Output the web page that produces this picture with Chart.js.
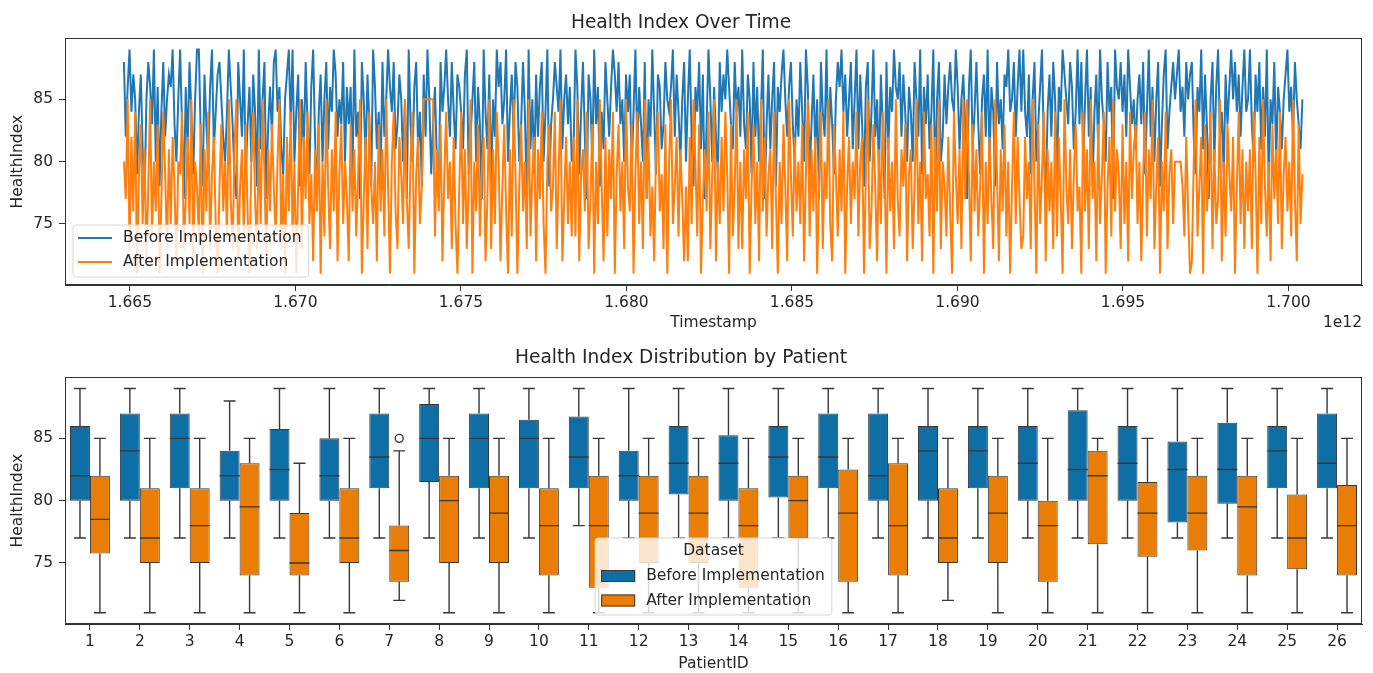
<!DOCTYPE html>
<html>
<head>
<meta charset="utf-8">
<title>Health Index</title>
<script src="https://cdn.jsdelivr.net/npm/chart.js@4.4.0/dist/chart.umd.min.js"></script>
<style>
  body { margin: 0; background: #fff; }
  canvas { display: block; }
</style>
</head>
<body>
<canvas id="timeChart" width="1373" height="336"></canvas>
<canvas id="boxChart" width="1373" height="337"></canvas>
<script>
// ---- data: top panel (readings over time) ----
const tsStart = 1664820000000;
const tsEnd = 1700420000000;

const beforeValues = [
  88,82,86,89,84,87,85,79,84,87,81,77,85,88,86,83,89,80,86,78,84,88,82,85,87,86,89,83,80,85,
  89,83,77,86,81,88,84,79,85,89,89,82,78,87,83,80,86,89,81,84,87,88,85,82,80,84,89,86,83,79,
  77,88,85,82,89,79,83,86,80,87,84,78,89,81,85,88,77,83,86,82,88,89,84,86,81,79,85,87,89,83,
  89,80,84,87,78,85,81,88,83,79,86,89,82,77,84,87,80,85,88,81,86,84,89,87,82,85,83,88,80,86,
  83,86,79,89,82,84,77,88,85,80,87,83,78,89,86,81,84,79,88,82,85,89,86,84,88,81,83,87,85,80,
  85,77,89,83,80,86,88,81,84,78,87,82,89,85,79,83,86,80,77,88,84,86,89,85,82,88,84,81,87,86,
  84,81,87,89,79,82,85,88,80,86,83,77,89,84,81,87,78,85,82,89,86,88,83,85,89,80,84,87,82,88,
  86,80,83,88,84,77,89,81,85,79,87,82,86,88,80,84,89,78,83,85,88,86,84,89,81,85,87,83,86,80,
  81,89,86,79,84,88,82,77,87,85,80,89,83,86,78,84,81,88,85,82,86,89,87,84,88,83,85,80,87,84,
  87,79,84,89,81,86,83,80,88,77,85,82,89,84,79,87,86,81,83,88,85,84,86,89,82,87,84,80,85,88,
  80,85,89,82,78,86,84,88,81,87,77,83,89,85,80,86,82,79,88,84,87,85,89,86,83,81,88,84,86,82,
  89,83,81,87,85,79,88,82,86,80,84,89,77,83,87,81,85,88,78,86,84,87,89,85,82,86,88,83,80,85,
  82,88,84,80,89,86,79,83,87,81,85,77,88,84,82,89,80,86,83,79,85,88,86,89,84,87,82,85,88,81,
  85,89,81,87,83,78,86,88,80,84,89,82,85,79,87,83,77,88,81,86,84,89,86,85,88,82,87,84,80,86,
  84,80,88,85,82,89,79,86,83,87,81,84,89,78,85,88,80,82,87,83,86,88,85,84,89,86,81,85,87,83,
  77,86,89,81,84,88,83,79,85,87,82,89,80,86,84,78,88,83,85,81,87,86,89,84,85,88,82,86,89,84,
  89,84,82,87,79,85,88,80,83,86,89,81,77,84,87,82,88,85,79,86,84,89,87,85,83,88,86,81,84,89,
  83,88,80,85,89,82,86,78,84,87,81,89,85,83,80,88,84,86,77,89,86,85,88,84,87,82,89,86,83,85,
  81,85,87,83,88,79,84,89,82,86,80,85,88,78,83,87,89,81,84,86,88,85,87,89,84,86,82,88,85,87,
  88,82,79,86,84,89,81,87,83,77,85,88,80,86,89,82,84,79,87,83,86,89,85,88,84,87,82,86,89,84,
  85,89,83,80,87,84,88,81,86,82,89,78,85,83,88,80,86,84,81,85,87,89,84,86,82,88,85,83,81,85
];

const afterValues = [
  80,77,85,73,82,76,84,71,79,83,75,81,72,78,85,74,80,76,83,71,77,84,79,73,81,75,82,78,72,80,
  79,84,73,77,82,75,85,72,80,78,74,83,71,81,76,84,73,79,82,75,71,78,83,76,80,74,85,77,73,81,
  85,72,78,81,74,83,76,71,80,84,77,73,82,75,85,79,72,81,76,83,78,74,80,85,73,79,71,82,76,84,
  74,80,71,78,85,73,82,77,84,75,79,72,81,76,83,71,80,74,85,78,73,81,76,84,72,79,83,75,80,77,
  72,83,76,81,74,79,85,71,77,82,73,84,78,75,80,72,83,76,81,74,85,78,71,80,84,76,73,82,79,75,
  85,77,73,80,84,71,79,82,75,78,85,85,85,85,85,85,74,81,76,83,72,79,84,77,80,73,82,75,71,78,
  84,75,81,73,78,85,71,80,76,83,74,79,82,72,77,85,73,81,75,84,80,72,78,83,76,71,81,74,85,79,
  71,78,83,76,80,73,85,74,79,82,72,81,77,84,75,71,80,83,76,78,84,73,79,85,72,77,82,75,80,74,
  82,74,85,72,79,81,76,84,73,77,83,71,80,75,85,78,72,82,74,81,77,84,71,79,83,76,80,73,85,78,
  76,83,71,79,84,75,80,73,85,77,82,74,78,72,81,84,76,79,73,83,71,80,85,75,78,82,74,81,77,72,
  78,72,82,75,85,80,74,83,71,77,81,76,84,73,79,85,72,80,75,82,76,84,79,71,83,74,78,85,73,80,
  73,81,77,84,71,78,83,75,80,72,85,76,82,74,79,81,73,84,77,71,80,75,83,78,72,85,79,74,82,76,
  80,75,83,72,79,85,74,81,76,82,71,78,84,73,80,77,85,75,72,83,79,74,81,76,84,71,78,82,75,80,
  77,84,74,80,82,71,79,85,73,76,83,78,72,81,75,84,79,71,82,76,80,73,85,77,74,81,78,83,72,79,
  81,73,78,85,75,80,72,84,77,79,74,83,71,82,76,85,73,80,78,74,82,76,71,84,79,75,81,73,85,77,
  85,79,72,83,76,81,74,78,84,71,80,75,82,77,73,85,79,72,81,76,83,74,80,71,78,84,75,82,77,73,
  74,82,77,80,73,85,78,71,83,75,79,84,72,81,76,80,73,84,74,82,77,71,85,78,75,81,73,79,83,76,
  78,71,84,76,81,73,85,77,80,72,83,75,79,84,71,78,82,74,85,76,81,79,73,83,75,80,72,84,77,81,
  83,75,80,72,79,84,74,81,77,85,73,78,82,71,80,76,84,73,79,81,75,80,80,80,80,78,74,82,76,71,
  72,80,85,74,78,82,71,83,76,79,84,73,81,75,77,85,72,80,74,83,79,76,82,71,78,84,75,81,73,80,
  76,81,73,84,79,71,82,75,85,78,74,80,72,83,77,81,75,84,73,79,82,76,80,74,85,77,72,83,75,79
];

const timeTicks = [1.665e12, 1.670e12, 1.675e12, 1.680e12, 1.685e12, 1.690e12, 1.695e12, 1.700e12];
const healthTicks = [75, 80, 85];

// ---- data: bottom panel (box statistics per patient) ----
const patients = ['1','2','3','4','5','6','7','8','9','10','11','12','13',
                  '14','15','16','17','18','19','20','21','22','23','24','25','26'];

const beforeLow    = [77,77,77,77,77,77,77,77,77,77,78,77,77,77,77,77,77,77,77,77,77,77,77,77,77,77];
const beforeQ1     = [80,80,81,80,80,80,81,81.5,81,81,81,80,80.5,80,80.25,81,80,80,81,80,80,80,78.25,79.75,81,81];
const beforeMedian = [82,84,85,82,82.5,82,83.5,85,85,85,83.5,82,83,83,83.5,83.5,82,84,84,83,82.5,83,82.5,82.5,84,83];
const beforeQ3     = [86,87,87,84,85.75,85,87,87.75,87,86.5,86.75,84,86,85.25,86,87,87,86,86,86,87.25,86,84.75,86.25,86,87];
const beforeHigh   = [89,89,89,88,89,89,89,89,89,89,89,89,89,89,89,89,89,89,89,89,89,89,89,89,89,89];
const beforeOutliers = [[],[],[],[],[],[],[],[],[],[],[],[],[],[],[],[],[],[],[],[],[],[],[],[],[],[]];

const afterLow    = [71,71,71,71,71,71,72,71,71,71,71,71,71,71,71,71,71,72,71,71,71,71,71,71,71,71];
const afterQ1     = [75.75,75,75,74,74,75,73.5,75,75,74,73,75,75,73,77,73.5,74,75,75,73.5,76.5,75.5,76,74,74.5,74];
const afterMedian = [78.5,77,78,79.5,75,77,76,80,79,78,78,79,79,78,80,79,78,77,79,78,82,79,79,79.5,77,78];
const afterQ3     = [82,81,81,83,79,81,78,82,82,81,82,82,82,81,82,82.5,83,81,82,80,84,81.5,82,82,80.5,81.25];
const afterHigh   = [85,85,85,85,83,85,84,85,85,85,85,85,85,85,85,85,85,85,85,85,85,85,85,85,85,85];
const afterOutliers = [[],[],[],[],[],[],[85],[],[],[],[],[],[],[],[],[],[],[],[],[],[],[],[],[],[],[]];

// ---- look ----
const FONT = '"DejaVu Sans", sans-serif';
const INK = '#262626';
const EDGE = '#383838';
Chart.defaults.font.family = FONT;
Chart.defaults.color = INK;

const lineBlue = '#1f77b4';
const lineOrange = '#ff7f0e';
const boxBlue = '#0e6fa7';
const boxOrange = '#ea7d05';

function roundRect(ctx, x, y, w, h, r) {
  ctx.beginPath();
  ctx.moveTo(x + r, y);
  ctx.arcTo(x + w, y, x + w, y + h, r);
  ctx.arcTo(x + w, y + h, x, y + h, r);
  ctx.arcTo(x, y + h, x, y, r);
  ctx.arcTo(x, y, x + w, y, r);
  ctx.closePath();
}

const frame = {
  id: 'frame',
  afterDraw(chart) {
    const {ctx, chartArea: a} = chart;
    ctx.save();
    ctx.strokeStyle = '#333';
    ctx.lineWidth = 1;
    ctx.strokeRect(Math.round(a.left) + 0.5, Math.round(a.top) + 0.5,
                   Math.round(a.width) - 1, Math.round(a.height) - 1);
    ctx.restore();
  }
};

const lineLegend = {
  id: 'lineLegend',
  afterDraw(chart) {
    const {ctx, chartArea: a} = chart;
    ctx.save();
    ctx.font = '15.5px ' + FONT;
    const sets = chart.data.datasets;
    const textW = Math.max(...sets.map(d => ctx.measureText(d.label).width));
    const w = 5 + 34 + 11 + textW + 7, h = 52;
    const x = a.left + 8, y = a.bottom - 8 - h;
    roundRect(ctx, x, y, w, h, 3);
    ctx.fillStyle = 'rgba(255,255,255,0.8)';
    ctx.fill();
    ctx.strokeStyle = '#d6d6d6';
    ctx.lineWidth = 1;
    ctx.stroke();
    sets.forEach((d, i) => {
      const cy = y + 13 + i * 24;
      ctx.strokeStyle = d.borderColor;
      ctx.lineWidth = 2;
      ctx.beginPath();
      ctx.moveTo(x + 5, cy);
      ctx.lineTo(x + 39, cy);
      ctx.stroke();
      ctx.fillStyle = INK;
      ctx.textBaseline = 'middle';
      ctx.fillText(d.label, x + 50, cy);
    });
    // offset label of the x axis
    ctx.textAlign = 'right';
    ctx.fillText('1e12', a.right, a.bottom + 38);
    ctx.restore();
  }
};

const boxParts = {
  id: 'boxParts',
  afterDatasetsDraw(chart) {
    const {ctx} = chart;
    const ys = chart.scales.y;
    const stats = [
      {lo: beforeLow, q1: beforeQ1, med: beforeMedian, q3: beforeQ3, hi: beforeHigh, out: beforeOutliers},
      {lo: afterLow, q1: afterQ1, med: afterMedian, q3: afterQ3, hi: afterHigh, out: afterOutliers}
    ];
    ctx.save();
    ctx.strokeStyle = EDGE;
    ctx.lineWidth = 1.4;
    stats.forEach((s, d) => {
      chart.getDatasetMeta(d).data.forEach((bar, i) => {
        const x = bar.x, half = bar.width / 2, cap = bar.width * 0.3;
        const yLo = ys.getPixelForValue(s.lo[i]);
        const yQ1 = ys.getPixelForValue(s.q1[i]);
        const yMed = ys.getPixelForValue(s.med[i]);
        const yQ3 = ys.getPixelForValue(s.q3[i]);
        const yHi = ys.getPixelForValue(s.hi[i]);
        ctx.beginPath();
        ctx.moveTo(x, yQ3); ctx.lineTo(x, yHi);
        ctx.moveTo(x - cap, yHi); ctx.lineTo(x + cap, yHi);
        ctx.moveTo(x, yQ1); ctx.lineTo(x, yLo);
        ctx.moveTo(x - cap, yLo); ctx.lineTo(x + cap, yLo);
        ctx.moveTo(x - half, yMed); ctx.lineTo(x + half, yMed);
        ctx.stroke();
        s.out[i].forEach(v => {
          ctx.beginPath();
          ctx.arc(x, ys.getPixelForValue(v), 4, 0, Math.PI * 2);
          ctx.stroke();
        });
      });
    });
    ctx.restore();
  }
};

const boxLegend = {
  id: 'boxLegend',
  afterDraw(chart) {
    const {ctx, chartArea: a} = chart;
    ctx.save();
    ctx.font = '15.5px ' + FONT;
    const sets = chart.data.datasets;
    const textW = Math.max(...sets.map(d => ctx.measureText(d.label).width));
    const w = 6 + 34 + 11 + textW + 7, h = 77;
    const x = (a.left + a.right) / 2 - w / 2, y = a.bottom - 9 - h;
    roundRect(ctx, x, y, w, h, 3);
    ctx.fillStyle = 'rgba(255,255,255,0.8)';
    ctx.fill();
    ctx.strokeStyle = '#d6d6d6';
    ctx.lineWidth = 1;
    ctx.stroke();
    ctx.fillStyle = INK;
    ctx.textBaseline = 'middle';
    ctx.textAlign = 'center';
    ctx.fillText('Dataset', x + w / 2, y + 13);
    ctx.textAlign = 'left';
    sets.forEach((d, i) => {
      const cy = y + 38 + i * 24.5;
      ctx.fillStyle = d.backgroundColor;
      ctx.fillRect(x + 6, cy - 6, 34, 12);
      ctx.strokeStyle = EDGE;
      ctx.strokeRect(x + 6.5, cy - 5.5, 33, 11);
      ctx.fillStyle = INK;
      ctx.fillText(d.label, x + 51, cy);
    });
    ctx.restore();
  }
};

function fixTicks(values) {
  return scale => { scale.ticks = values.map(v => ({value: v})); };
}

const tickFont = {family: FONT, size: 15.5};
const axisGrid = {drawOnChartArea: false, drawTicks: true, tickLength: 6, color: '#333'};

// ---- top: line chart ----
const step = (tsEnd - tsStart) / (beforeValues.length - 1);
const stepAfter = (tsEnd - tsStart) / (afterValues.length - 1);

new Chart(document.getElementById('timeChart'), {
  type: 'line',
  data: {
    datasets: [
      {
        label: 'Before Implementation',
        data: beforeValues.map((v, i) => ({x: tsStart + i * step, y: v})),
        borderColor: lineBlue,
        borderWidth: 2,
        pointRadius: 0,
        order: 1
      },
      {
        label: 'After Implementation',
        data: afterValues.map((v, i) => ({x: tsStart + i * stepAfter, y: v})),
        borderColor: lineOrange,
        borderWidth: 2,
        pointRadius: 0,
        order: 0
      }
    ]
  },
  options: {
    responsive: false,
    animation: false,
    events: [],
    layout: {padding: {left: 0, right: 11, top: 0, bottom: 0}},
    plugins: {
      legend: {display: false},
      tooltip: {enabled: false},
      title: {
        display: true,
        text: 'Health Index Over Time',
        color: INK,
        font: {family: FONT, size: 18.6, weight: 'normal'},
        padding: {top: 12, bottom: 4}
      }
    },
    scales: {
      x: {
        type: 'linear',
        min: 1.66304e12,
        max: 1.70222e12,
        afterBuildTicks: fixTicks(timeTicks),
        afterFit: s => { s.height = 51; },
        grid: axisGrid,
        border: {color: '#333'},
        ticks: {font: tickFont, color: INK, padding: 3, maxRotation: 0,
                callback: v => (v / 1e12).toFixed(3)},
        title: {display: true, text: 'Timestamp', color: INK, font: tickFont, padding: {top: 0, bottom: 4}}
      },
      y: {
        min: 70.1,
        max: 89.9,
        afterBuildTicks: fixTicks(healthTicks),
        afterFit: s => { s.width = 65; },
        grid: axisGrid,
        border: {color: '#333'},
        ticks: {font: tickFont, color: INK, padding: 6},
        title: {display: true, text: 'HealthIndex', color: INK, font: tickFont, padding: {top: 9, bottom: 0}}
      }
    }
  },
  plugins: [frame, lineLegend]
});

// ---- bottom: box plot built on floating bars ----
new Chart(document.getElementById('boxChart'), {
  type: 'bar',
  data: {
    labels: patients,
    datasets: [
      {
        label: 'Before Implementation',
        data: beforeQ1.map((v, i) => [v, beforeQ3[i]]),
        backgroundColor: boxBlue,
        borderColor: EDGE,
        borderWidth: 1,
        borderSkipped: false
      },
      {
        label: 'After Implementation',
        data: afterQ1.map((v, i) => [v, afterQ3[i]]),
        backgroundColor: boxOrange,
        borderColor: EDGE,
        borderWidth: 1,
        borderSkipped: false
      }
    ]
  },
  options: {
    responsive: false,
    animation: false,
    events: [],
    categoryPercentage: 0.8,
    barPercentage: 1.0,
    layout: {padding: {left: 0, right: 11, top: 0, bottom: 0}},
    plugins: {
      legend: {display: false},
      tooltip: {enabled: false},
      title: {
        display: true,
        text: 'Health Index Distribution by Patient',
        color: INK,
        font: {family: FONT, size: 18.6, weight: 'normal'},
        padding: {top: 11, bottom: 8}
      }
    },
    scales: {
      x: {
        afterFit: s => { s.height = 49; },
        grid: Object.assign({offset: false}, axisGrid),
        border: {color: '#333'},
        ticks: {font: tickFont, color: INK, padding: 3, maxRotation: 0, autoSkip: false},
        title: {display: true, text: 'PatientID', color: INK, font: tickFont, padding: {top: 0, bottom: 0}}
      },
      y: {
        min: 70.1,
        max: 89.9,
        afterBuildTicks: fixTicks(healthTicks),
        afterFit: s => { s.width = 65; },
        grid: axisGrid,
        border: {color: '#333'},
        ticks: {font: tickFont, color: INK, padding: 6},
        title: {display: true, text: 'HealthIndex', color: INK, font: tickFont, padding: {top: 9, bottom: 0}}
      }
    }
  },
  plugins: [boxParts, frame, boxLegend]
});
</script>
</body>
</html>
